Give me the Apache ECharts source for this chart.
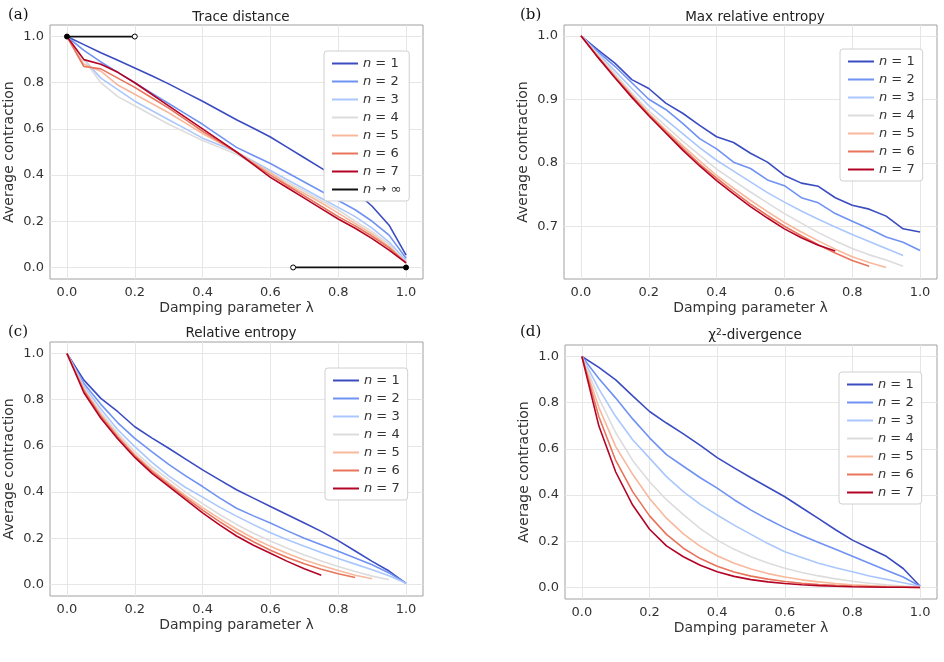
<!DOCTYPE html>
<html>
<head>
<meta charset="utf-8">
<script src="https://cdn.jsdelivr.net/npm/echarts@6/dist/echarts.min.js"></script>
<style>html,body{margin:0;padding:0;background:#fff}#main{width:944px;height:662px}</style>
</head>
<body>
<div id="main"></div>
<script>
var lambda = [0, 0.05, 0.1, 0.15, 0.2, 0.25, 0.3, 0.35, 0.4, 0.45, 0.5, 0.55, 0.6, 0.65, 0.7, 0.75, 0.8, 0.85, 0.9, 0.95, 1];
var names = ['n = 1', 'n = 2', 'n = 3', 'n = 4', 'n = 5', 'n = 6', 'n = 7'];
var colors = ['#3b4cc0', '#6f92f3', '#aac7fd', '#dddcdc', '#f7b89c', '#e7745b', '#b40426'];
var tickLabels = [0, 0.2, 0.4, 0.6, 0.8, 1.0];
var tickLabelsB = [0.7, 0.8, 0.9, 1.0];

// (a) trace distance
var traceDist = [
  [1, .965, .93, .897, .864, .83, .795, .757, .72, .68, .64, .603, .565, .52, .475, .43, .385, .33, .265, .183, .053],
  [1, .94, .89, .845, .8, .755, .71, .665, .62, .57, .52, .485, .45, .41, .37, .33, .29, .25, .2, .14, .04],
  [1, .9, .82, .77, .72, .68, .64, .6, .56, .53, .5, .46, .42, .38, .34, .3, .26, .22, .17, .11, .03],
  [1, .9, .8, .74, .7, .66, .62, .585, .55, .52, .49, .45, .41, .37, .33, .29, .25, .2, .155, .1, .02],
  [1, .88, .85, .79, .75, .71, .67, .625, .58, .54, .5, .455, .41, .36, .32, .28, .235, .19, .145, .09, .02],
  [1, .87, .86, .82, .78, .735, .69, .64, .59, .545, .5, .45, .4, .355, .31, .265, .22, .18, .135, .085, .02],
  [1, .9, .88, .845, .8, .75, .7, .65, .6, .55, .5, .445, .39, .345, .3, .255, .21, .17, .125, .075, .02]
];
var limitX = [0, 0.2, 0.667, 1];
var limitY = [1, 1, 0, 0];

// (b) max relative entropy
var maxRelEnt = [
  [1, .978, .957, .931, .917, .894, .878, .859, .841, .832, .815, .801, .780, .768, .763, .745, .733, .727, .716, .696, .691],
  [1, .975, .952, .926, .9, .884, .862, .838, .822, .801, .791, .773, .764, .745, .737, .72, .708, .696, .683, .675, .662],
  [1, .972, .945, .917, .89, .868, .846, .824, .804, .787, .77, .753, .738, .724, .711, .699, .687, .676, .665, .654],
  [1, .97, .94, .91, .882, .858, .834, .812, .79, .772, .754, .737, .72, .705, .69, .677, .665, .655, .647, .637],
  [1, .968, .937, .907, .878, .852, .827, .803, .78, .76, .741, .723, .706, .691, .677, .664, .652, .643, .635],
  [1, .967, .935, .905, .876, .849, .823, .798, .776, .755, .735, .717, .7, .685, .671, .658, .646, .637],
  [1, .966, .934, .903, .874, .847, .82, .795, .772, .751, .731, .713, .696, .682, .67, .661]
];

// (c) relative entropy
var relEnt = [
  [1, .885, .806, .748, .683, .635, .59, .543, .496, .453, .41, .374, .338, .302, .266, .23, .19, .145, .1, .058, .005],
  [1, .87, .78, .7, .633, .575, .52, .47, .424, .375, .33, .297, .266, .232, .2, .172, .144, .115, .085, .05, .005],
  [1, .86, .76, .67, .597, .53, .47, .42, .378, .335, .296, .259, .224, .194, .165, .138, .112, .088, .064, .038, .005],
  [1, .85, .745, .655, .575, .51, .455, .4, .35, .303, .26, .222, .188, .157, .128, .102, .078, .056, .036, .02],
  [1, .845, .735, .645, .563, .497, .44, .385, .333, .285, .24, .2, .165, .134, .106, .082, .06, .04, .025],
  [1, .84, .728, .637, .557, .49, .432, .376, .322, .272, .225, .185, .148, .117, .09, .066, .046, .03],
  [1, .83, .72, .63, .55, .482, .425, .367, .31, .258, .21, .17, .135, .1, .068, .04]
];

// (d) chi^2 divergence
var chi2 = [
  [1, .953, .899, .83, .762, .712, .665, .615, .562, .518, .475, .434, .393, .345, .298, .25, .205, .17, .135, .082, .005],
  [1, .905, .82, .73, .648, .575, .525, .475, .43, .38, .335, .295, .258, .225, .195, .165, .135, .105, .075, .045, .005],
  [1, .86, .74, .64, .56, .48, .415, .36, .314, .27, .23, .19, .155, .13, .105, .085, .068, .05, .035, .02, .005],
  [1, .82, .67, .55, .458, .38, .315, .255, .205, .165, .133, .106, .083, .065, .05, .037, .027, .018, .011, .006, .002],
  [1, .78, .61, .49, .385, .3, .232, .178, .137, .105, .08, .06, .045, .033, .024, .017, .012, .008, .005, .003, .001],
  [1, .74, .55, .415, .31, .23, .17, .125, .092, .067, .049, .036, .026, .018, .013, .009, .006, .004, .002, .001, 0],
  [1, .7, .5, .357, .252, .18, .133, .096, .068, .048, .034, .024, .017, .012, .008, .005, .003, .002, .001, .001, 0]
];

var chart = echarts.init(document.getElementById('main'));

var font = 'DejaVu Sans';
var grids = [
  { left: 50, top: 25, width: 373, height: 254 },
  { left: 564, top: 25, width: 373, height: 254 },
  { left: 50, top: 342, width: 373, height: 254 },
  { left: 565, top: 345, width: 372, height: 254 }
];
grids.forEach(function (g) {
  g.show = true;
  g.borderColor = '#a0a0a0';
  g.borderWidth = 1;
});

function xAxisFor(i) {
  return {
    type: 'value', gridIndex: i, min: -0.05, max: 1.05,
    name: 'Damping parameter λ', nameLocation: 'middle', nameGap: 22,
    nameTextStyle: { fontFamily: font, fontSize: 14, color: '#333' },
    axisLine: { show: false }, axisTick: { show: false, customValues: tickLabels },
    axisLabel: { customValues: tickLabels, fontFamily: font, fontSize: 13, color: '#333', margin: 7,
      formatter: function (v) { return v.toFixed(1); } },
    splitLine: { show: true, lineStyle: { color: '#e6e6e6' } }
  };
}
function yAxisFor(i, min, max, ticks) {
  return {
    type: 'value', gridIndex: i, min: min, max: max,
    name: 'Average contraction', nameLocation: 'middle', nameGap: 34, nameRotate: 90,
    nameTextStyle: { fontFamily: font, fontSize: 14, color: '#333' },
    axisLine: { show: false }, axisTick: { show: false, customValues: ticks },
    axisLabel: { customValues: ticks, fontFamily: font, fontSize: 13, color: '#333', margin: 6,
      formatter: function (v) { return v.toFixed(1); } },
    splitLine: { show: true, lineStyle: { color: '#e6e6e6' } }
  };
}

var series = [];
function addPanel(data, gi) {
  data.forEach(function (vals, k) {
    series.push({
      name: names[k], type: 'line', xAxisIndex: gi, yAxisIndex: gi,
      showSymbol: false, symbol: 'none', silent: true,
      lineStyle: { color: colors[k], width: 1.6 }, itemStyle: { color: colors[k] },
      data: vals.map(function (v, j) { return [lambda[j], v]; })
    });
  });
}
addPanel(traceDist, 0);
addPanel(maxRelEnt, 1);
addPanel(relEnt, 2);
addPanel(chi2, 3);

var limitData = [];
limitX.forEach(function (x, j) {
  if (j === 2) limitData.push(['-', '-']);
  var filled = (j === 0 || j === 3);
  limitData.push({ value: [x, limitY[j]], symbol: 'circle', symbolSize: 5,
    itemStyle: { color: filled ? '#000' : '#fff', borderColor: '#000', borderWidth: 1 } });
});
series.push({
  name: 'n → ∞', type: 'line', xAxisIndex: 0, yAxisIndex: 0, showSymbol: true,
  connectNulls: false, silent: true, z: 5,
  lineStyle: { color: '#111', width: 1.8 }, itemStyle: { color: '#111' },
  data: limitData
});

function legendFor(pos, withLimit) {
  var items = names.slice();
  if (withLimit) items.push('n → ∞');
  return Object.assign({
    orient: 'vertical', icon: 'rect', itemWidth: 26, itemHeight: 2, itemGap: 5,
    backgroundColor: '#fff', borderColor: '#d0d0d0', borderWidth: 1, borderRadius: 3,
    padding: [6, 8, 5, 8],
    data: items.map(function (n, k) {
      return { name: n, itemStyle: { color: k < 7 ? colors[k] : '#111' } };
    }),
    formatter: function (n) { return '{i|n}' + n.slice(1); },
    textStyle: { fontFamily: font, fontSize: 13, color: '#333',
      rich: { i: { fontStyle: 'italic', fontFamily: font, fontSize: 13, color: '#333' } } }
  }, pos);
}

var titleStyle = { fontFamily: font, fontSize: 13.5, fontWeight: 'normal', color: '#222' };
var labelStyle = { fontFamily: 'DejaVu Serif', fontSize: 15, fontWeight: 'normal', color: '#111' };

chart.setOption({
  animation: false,
  backgroundColor: '#fff',
  title: [
    { text: 'Trace distance', left: 236, top: 5, textAlign: 'center', textStyle: titleStyle },
    { text: 'Max relative entropy', left: 750, top: 5, textAlign: 'center', textStyle: titleStyle },
    { text: 'Relative entropy', left: 236, top: 321, textAlign: 'center', textStyle: titleStyle },
    { text: '{t|χ}{s|2}{t|-divergence}', left: 750, top: 323, textAlign: 'center',
      textStyle: Object.assign({}, titleStyle, { rich: {
        t: { fontFamily: font, fontSize: 13.5, color: '#222' },
        s: { fontFamily: font, fontSize: 9, color: '#222', verticalAlign: 'top', padding: [0, 0, 6, 0] } } }) },
    { text: '(a)', left: 3, top: 3, textStyle: labelStyle },
    { text: '(b)', left: 515, top: 3, textStyle: labelStyle },
    { text: '(c)', left: 3, top: 320, textStyle: labelStyle },
    { text: '(d)', left: 515, top: 320, textStyle: labelStyle }
  ],
  legend: [
    legendFor({ left: 324, top: 51 }, true),
    legendFor({ left: 840, top: 49 }, false),
    legendFor({ left: 325, top: 368 }, false),
    legendFor({ left: 839, top: 372 }, false)
  ],
  grid: grids,
  xAxis: [xAxisFor(0), xAxisFor(1), xAxisFor(2), xAxisFor(3)],
  yAxis: [
    yAxisFor(0, -0.05, 1.05, tickLabels),
    yAxisFor(1, 0.617, 1.017, tickLabelsB),
    yAxisFor(2, -0.05, 1.05, tickLabels),
    yAxisFor(3, -0.05, 1.05, tickLabels)
  ],
  series: series
});
</script>
</body>
</html>
